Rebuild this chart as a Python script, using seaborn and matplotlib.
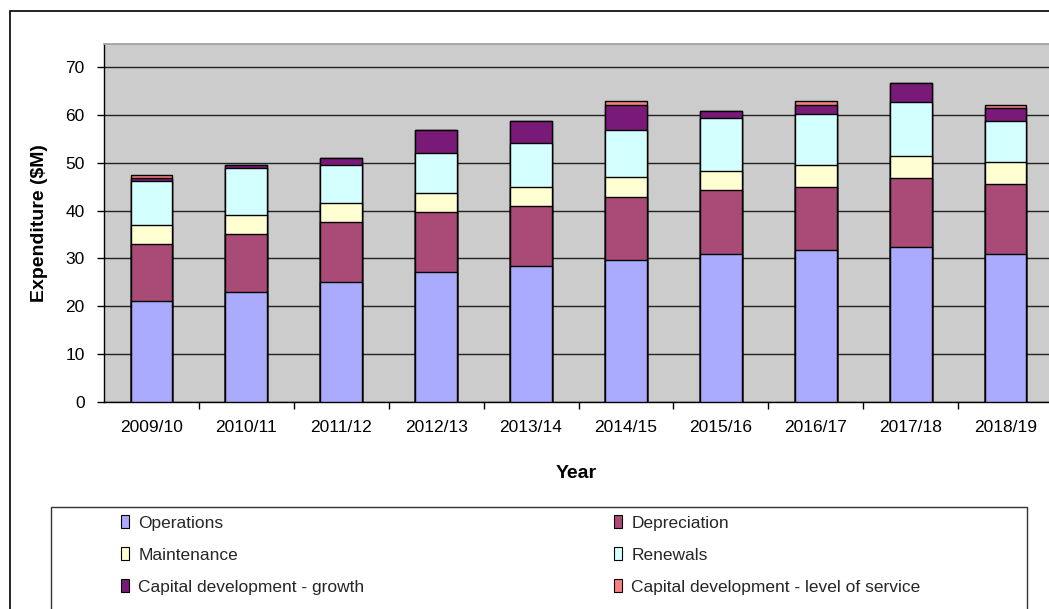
import matplotlib
matplotlib.use("Agg")
import matplotlib.pyplot as plt
from matplotlib.patches import Patch, Rectangle
import numpy as np
import pandas as pd
import seaborn as sns

years = ["2009/10", "2010/11", "2011/12", "2012/13", "2013/14",
         "2014/15", "2015/16", "2016/17", "2017/18", "2018/19"]
operations   = [21.1, 23.0, 25.1, 27.1, 28.4, 29.7, 31.0, 31.7, 32.4, 31.0]
depreciation = [11.9, 12.0, 12.5, 12.6, 12.5, 13.2, 13.3, 13.2, 14.5, 14.5]
maintenance  = [3.9, 4.0, 4.0, 3.9, 4.0, 4.1, 3.9, 4.6, 4.6, 4.6]
renewals     = [9.2, 9.9, 7.9, 8.5, 9.2, 9.8, 11.2, 10.6, 11.2, 8.6]
growth       = [0.7, 0.7, 1.4, 4.8, 4.7, 5.3, 1.4, 1.9, 4.0, 2.7]
level_of_service = [0.7, 0.0, 0.0, 0.0, 0.0, 0.7, 0.0, 0.8, 0.0, 0.7]

series_names = ["Operations", "Depreciation", "Maintenance", "Renewals",
                "Capital development - growth", "Capital development - level of service"]
series_values = [operations, depreciation, maintenance, renewals, growth, level_of_service]
colors = ["#AAAAFF", "#AA4A77", "#FFFFD2", "#D4FFFF", "#7A1A78", "#F88080"]

df = pd.DataFrame({"Year": years})
for n, v in zip(series_names, series_values):
    df[n] = v
cum = df[series_names].cumsum(axis=1)

sns.set_theme(style="white")
plt.rcParams["font.family"] = ["Liberation Sans", "DejaVu Sans"]

W, H = 1049, 609
fig = plt.figure(figsize=(W / 100, H / 100), dpi=100)
fig.patch.set_facecolor("white")

# outer chart border
fig.add_artist(Rectangle((10 / W, -0.05), 1.1, 1 - 11 / H + 0.05, transform=fig.transFigure,
                         fill=False, edgecolor="#000000", linewidth=1.2))

ax = fig.add_axes([104 / W, 1 - 402 / H, 949 / W, 358 / H])
ax.set_facecolor("#CCCCCC")

# draw cumulative totals from top down so each segment shows its own band
for i in range(len(series_names) - 1, -1, -1):
    plot_df = pd.DataFrame({"Year": years, "val": cum[series_names[i]].values})
    sns.barplot(data=plot_df, x="Year", y="val", color=colors[i], width=0.44,
                edgecolor="black", linewidth=1.0, saturation=1, ax=ax, zorder=3)

ax.set_xlim(-0.5, 9.5)
ax.set_ylim(0, 74.8)
ax.set_yticks(range(0, 71, 10))
ax.yaxis.grid(True, color="#222222", linewidth=1.0)
ax.set_axisbelow(True)
for b in ax.patches:
    b.set_zorder(3)

ax.spines["left"].set_color("black")
ax.spines["bottom"].set_color("black")
ax.spines["left"].set_linewidth(1.0)
ax.spines["bottom"].set_linewidth(1.0)
ax.spines["top"].set_color("#A0A0A0")
ax.spines["right"].set_visible(False)

ax.tick_params(axis="y", which="major", direction="out", length=5, width=1,
               color="black", pad=9, labelsize=12.5, left=True)
ax.tick_params(axis="x", which="major", length=0, pad=13, labelsize=12.5)
ax.set_xticks(np.arange(0.5, 9.0, 1.0), minor=True)
ax.tick_params(axis="x", which="minor", direction="out", length=5, width=1,
               color="black", bottom=True)
for lab in ax.get_xticklabels() + ax.get_yticklabels():
    lab.set_color("black")

ax.set_xlabel("Year", fontsize=14, fontweight="bold", color="black")
ax.set_ylabel("Expenditure ($M)", fontsize=14, fontweight="bold", color="black")
ax.xaxis.set_label_coords((576 - 104) / 949, (402 - 473) / 358)
ax.xaxis.label.set_va("center")
ax.yaxis.set_label_coords((40 - 104) / 949, 0.5)
ax.yaxis.label.set_va("center")

# legend box
fig.add_artist(Rectangle((51 / W, -0.05), (1027 - 51) / W, (1 - 507 / H) + 0.05,
                         transform=fig.transFigure, fill=False,
                         edgecolor="#333333", linewidth=1.0))

handles = [Patch(facecolor=c, edgecolor="black", linewidth=0.8) for c in colors]
col1 = [0, 2, 4]
col2 = [1, 3, 5]
common = dict(loc="center left", frameon=False, fontsize=12.5, handlelength=0.45,
              handleheight=0.7, handletextpad=0.55, labelspacing=0.97,
              borderpad=0, borderaxespad=0)
fig.legend([handles[i] for i in col1], [series_names[i] for i in col1],
           bbox_to_anchor=(121 / W, 1 - 555 / H), **common)
fig.legend([handles[i] for i in col2], [series_names[i] for i in col2],
           bbox_to_anchor=(614 / W, 1 - 555 / H), **common)

fig.savefig("out.png", dpi=100)
